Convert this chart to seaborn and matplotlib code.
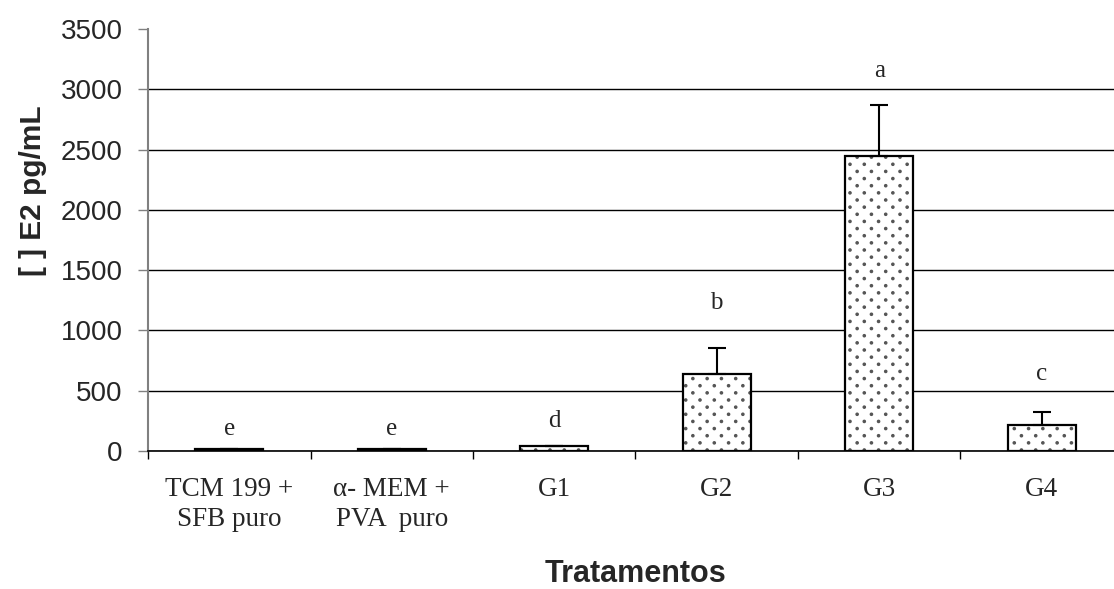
import numpy as np
import pandas as pd
import matplotlib
matplotlib.use("Agg")
import matplotlib.pyplot as plt
import matplotlib.hatch as mhatch
from matplotlib.path import Path
import seaborn as sns

# Estradiol concentration per treatment
tratamentos = ["TCM 199 +\nSFB puro", "α- MEM +\nPVA  puro", "G1", "G2", "G3", "G4"]
e2_media = [15, 15, 38, 642, 2444, 215]
e2_erro = [0, 0, 0, 212, 424, 110]
letras = ["e", "e", "d", "b", "a", "c"]
letra_y = [92, 92, 158, 1140, 3060, 545]
y_ticks = [0, 500, 1000, 1500, 2000, 2500, 3000, 3500]


class StaggeredDots(mhatch.HatchPatternBase):
    """Small filled dots in staggered rows, twice as many rows as columns."""

    def __init__(self, hatch, density):
        n = hatch.count(".")
        ncol, nrow = 7 * n, 14 * n
        circ = Path.unit_circle()
        self.shape_vertices = circ.vertices
        self.shape_codes = circ.codes
        pts = []
        if n:
            for r in range(nrow + 1):
                if r % 2 == 0:
                    xs = np.linspace(0, 1, ncol + 1)
                else:
                    xs = np.linspace(0.5 / ncol, 1 - 0.5 / ncol, ncol)
                pts.extend((x, r / nrow) for x in xs)
        self.pts = pts
        self.num_vertices = len(pts) * len(self.shape_vertices)

    def set_vertices_and_codes(self, vertices, codes):
        if not self.pts:
            return
        shape = self.shape_vertices * 0.011
        np.concatenate([shape + p for p in self.pts], out=vertices)
        np.concatenate([self.shape_codes] * len(self.pts), out=codes)


mhatch._hatch_types = [StaggeredDots if t is mhatch.SmallFilledCircles else t
                       for t in mhatch._hatch_types]

sns.set_style("white")
plt.rcParams["font.family"] = ["Liberation Sans", "DejaVu Sans"]

df = pd.DataFrame({"trat": tratamentos, "e2": e2_media})

fig = plt.figure(figsize=(11.14, 5.89), dpi=100)
ax = fig.add_axes([0.1329, 0.2343, 0.8751, 0.7165])

# dotted fill
sns.barplot(data=df, x="trat", y="e2", color="white", edgecolor="#555555",
            linewidth=0, hatch=".", width=0.42, ax=ax, zorder=2)
# black outline
sns.barplot(data=df, x="trat", y="e2", fill=False, edgecolor="black",
            linewidth=1.6, width=0.42, ax=ax, zorder=3)

xpos = np.arange(len(tratamentos))
ax.errorbar(xpos, e2_media, yerr=[np.zeros(len(e2_erro)), e2_erro], fmt="none",
            ecolor="black", elinewidth=1.5, capsize=6.5, capthick=1.5, zorder=4)

for x, y, s in zip(xpos, letra_y, letras):
    ax.text(x, y, s, ha="center", va="bottom", fontsize=18,
            family=["Liberation Serif", "DejaVu Serif"], zorder=5)

ax.set_xlim(-0.5, len(tratamentos) - 0.5)
ax.set_ylim(0, 3500)
ax.set_yticks(y_ticks)
ax.set_yticklabels([str(v) for v in y_ticks], fontsize=20)

# category boundaries as major ticks, names on minor ticks
ax.set_xticks(np.arange(-0.5, len(tratamentos), 1.0))
ax.set_xticklabels([""] * (len(tratamentos) + 1))
ax.set_xticks(xpos, minor=True)
ax.set_xticklabels(tratamentos, minor=True, fontsize=19.5,
                   family=["Liberation Serif", "DejaVu Serif"], linespacing=1.25)
ax.tick_params(axis="x", which="major", bottom=True, length=5.8, width=1,
               color="black", direction="out")
ax.tick_params(axis="x", which="minor", bottom=True, length=0, pad=19)
ax.tick_params(axis="y", which="major", left=True, length=7.2, width=1,
               color="#808080", direction="out", pad=11)

ax.yaxis.grid(True, color="black", linewidth=1)
ax.set_axisbelow(True)
for gl in ax.yaxis.get_gridlines()[-1:]:
    gl.set_visible(False)

for side in ["top", "right"]:
    ax.spines[side].set_visible(False)
ax.spines["left"].set_color("#808080")
ax.spines["left"].set_linewidth(1.5)
ax.spines["bottom"].set_color("black")
ax.spines["bottom"].set_linewidth(1.2)

ax.set_xlabel("Tratamentos", fontsize=22, fontweight="bold", labelpad=19.5)
ax.set_ylabel("[ ] E2 pg/mL", fontsize=21.5, fontweight="bold")
ax.yaxis.set_label_coords(-0.104, 0.618)

fig.savefig("out.png", dpi=100)
